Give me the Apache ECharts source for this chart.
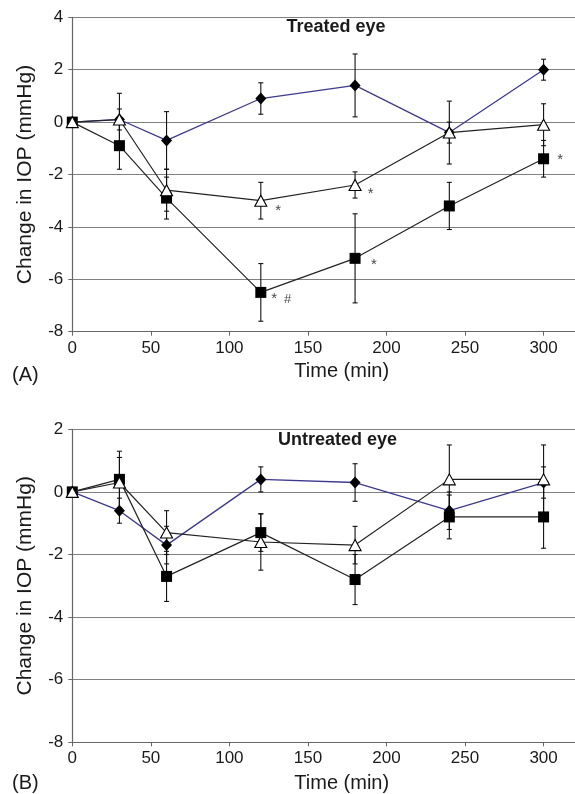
<!DOCTYPE html>
<html>
<head>
<meta charset="utf-8">
<script src="https://cdn.jsdelivr.net/npm/echarts@6/dist/echarts.min.js"></script>
<style>html,body{margin:0;padding:0;background:#fff}#c{width:575px;height:794px}</style>
</head>
<body>
<div id="c"></div>
<script>
// ---- data ----
const times = [0, 30, 60, 120, 180, 240, 300];
const xTicks = [0, 50, 100, 150, 200, 250, 300];

// Panel A: treated eye
const aDiamond    = [0, 0.1, -0.7, 0.9, 1.4, -0.4, 2.0];
const aDiamondErr = [0, 0.4, 1.1, 0.6, 1.2, 0.4, 0.4];
const aSquare     = [0, -0.9, -2.9, -6.5, -5.2, -3.2, -1.4];
const aSquareErr  = [0, 0.9, 0.8, 1.1, 1.7, 0.9, 0.7];
const aTriangle   = [0, 0.1, -2.6, -3.0, -2.4, -0.4, -0.1];
const aTriangleErr= [0, 1.0, 0.8, 0.7, 0.5, 1.2, 0.8];
const aNotes = [[131, -3.23, '*'], [128.5, -6.61, '*'], [137, -6.76, '#'], [190, -2.59, '*'], [192, -5.29, '*'], [310.5, -1.29, '*']];

// Panel B: untreated eye
const bDiamond    = [0, -0.6, -1.7, 0.4, 0.3, -0.6, 0.3];
const bDiamondErr = [0, 0.4, 0.6, 0.4, 0.6, 0.6, 0.5];
const bSquare     = [0, 0.4, -2.7, -1.3, -2.8, -0.8, -0.8];
const bSquareErr  = [0, 0.9, 0.8, 0.6, 0.8, 0.7, 1.0];
const bTriangle   = [0, 0.3, -1.3, -1.6, -1.7, 0.4, 0.4];
const bTriangleErr= [0, 0.8, 0.7, 0.9, 0.6, 1.1, 1.1];

const yTicksA = [-8, -6, -4, -2, 0, 2, 4];
const yTicksB = [-8, -6, -4, -2, 0, 2];

// ---- build ----
const FONT = 'Liberation Sans, Arial, sans-serif';
const TXT = '#1a1a1a';
const BLUE = '#3c3a8e';
const LINE = '#222';

function pts(vals) { return times.map((t, i) => [t, vals[i]]); }
function errs(vals, e) {
  return times.map((t, i) => [t, vals[i] - e[i], vals[i] + e[i]]).filter((d, i) => e[i] > 0);
}
function errSeries(idx, vals, e) {
  return {
    type: 'custom', xAxisIndex: idx, yAxisIndex: idx, z: 1, silent: true,
    data: errs(vals, e),
    encode: { x: 0, y: [1, 2] },
    renderItem: function (params, api) {
      const lo = api.coord([api.value(0), api.value(1)]);
      const hi = api.coord([api.value(0), api.value(2)]);
      const w = 2.5;
      const st = { stroke: '#111', lineWidth: 1.1 };
      return {
        type: 'group', children: [
          { type: 'line', shape: { x1: lo[0], y1: lo[1], x2: hi[0], y2: hi[1] }, style: st },
          { type: 'line', shape: { x1: lo[0] - w, y1: lo[1], x2: lo[0] + w, y2: lo[1] }, style: st },
          { type: 'line', shape: { x1: hi[0] - w, y1: hi[1], x2: hi[0] + w, y2: hi[1] }, style: st }
        ]
      };
    }
  };
}
function lineSeries(idx, vals, kind) {
  const base = { type: 'line', xAxisIndex: idx, yAxisIndex: idx, data: pts(vals), silent: true, animation: false };
  if (kind === 'diamond') return Object.assign(base, {
    z: 2, symbol: 'diamond', symbolSize: [11, 12],
    lineStyle: { color: BLUE, width: 1.3 }, itemStyle: { color: '#000' }
  });
  if (kind === 'square') return Object.assign(base, {
    z: 3, symbol: 'rect', symbolSize: 11,
    lineStyle: { color: LINE, width: 1.2 }, itemStyle: { color: '#000' }
  });
  return Object.assign(base, {
    z: 4, symbol: 'triangle', symbolSize: [12, 11],
    lineStyle: { color: LINE, width: 1.2 }, itemStyle: { color: '#fff', borderColor: '#000', borderWidth: 1.1 }
  });
}
function xAxis(idx) {
  return {
    type: 'value', gridIndex: idx, min: 0, max: 320, interval: 50,
    axisLine: { onZero: false, lineStyle: { color: '#666', width: 1.2 } },
    axisTick: { length: 4, lineStyle: { color: '#666' } },
    axisLabel: { showMaxLabel: false, margin: 8, fontSize: 17, color: TXT, fontFamily: FONT },
    splitLine: { show: false }
  };
}
function yAxis(idx, max) {
  return {
    type: 'value', gridIndex: idx, min: -8, max: max, interval: 2,
    name: 'Change in IOP (mmHg)', nameLocation: 'middle', nameGap: 37,
    nameTextStyle: { fontSize: 21, color: TXT, fontFamily: FONT },
    axisLine: { show: true, lineStyle: { color: '#666', width: 1.2 } },
    axisTick: { show: true, length: 4, lineStyle: { color: '#666' } },
    axisLabel: { margin: 9, fontSize: 17, color: TXT, fontFamily: FONT },
    splitLine: { show: true, lineStyle: { color: '#808080', width: 1.2 } }
  };
}
function notes(idx, arr) {
  return {
    type: 'scatter', xAxisIndex: idx, yAxisIndex: idx, symbolSize: 0, silent: true, z: 5,
    data: arr.map(n => ({
      value: [n[0], n[1]],
      label: {
        show: true, position: 'inside', formatter: n[2], fontSize: n[2] === '*' ? 15 : 13, color: '#111', fontFamily: FONT,
        offset: n[2] === '*' ? [0, 4] : [0, 0]
      }
    }))
  };
}
function txt(x, y, s, size, bold, align) {
  return { type: 'text', x: x, y: y, style: { text: s, fontSize: size, fontWeight: bold ? 'bold' : 'normal', fill: TXT, fontFamily: FONT, textAlign: align || 'center', textVerticalAlign: 'middle' } };
}

const option = {
  animation: false,
  backgroundColor: '#fff',
  grid: [
    { left: 72.3, top: 17.3, width: 507, height: 314.4 },
    { left: 72.3, top: 429.3, width: 507, height: 313 }
  ],
  xAxis: [xAxis(0), xAxis(1)],
  yAxis: [yAxis(0, 4), yAxis(1, 2)],
  series: [
    errSeries(0, aDiamond, aDiamondErr), errSeries(0, aSquare, aSquareErr), errSeries(0, aTriangle, aTriangleErr),
    lineSeries(0, aDiamond, 'diamond'), lineSeries(0, aSquare, 'square'), lineSeries(0, aTriangle, 'triangle'),
    notes(0, aNotes),
    errSeries(1, bDiamond, bDiamondErr), errSeries(1, bSquare, bSquareErr), errSeries(1, bTriangle, bTriangleErr),
    lineSeries(1, bDiamond, 'diamond'), lineSeries(1, bSquare, 'square'), lineSeries(1, bTriangle, 'triangle')
  ],
  graphic: [
    txt(336, 27.5, 'Treated eye', 18, true),
    txt(337.5, 440, 'Untreated eye', 18, true),
    txt(341.7, 371, 'Time (min)', 20),
    txt(341.7, 783, 'Time (min)', 20),
    txt(12, 375, '(A)', 20, false, 'left'),
    txt(12, 783, '(B)', 20, false, 'left')
  ]
};
const chart = echarts.init(document.getElementById('c'), null, { renderer: 'canvas' });
chart.setOption(option);
</script>
</body>
</html>
